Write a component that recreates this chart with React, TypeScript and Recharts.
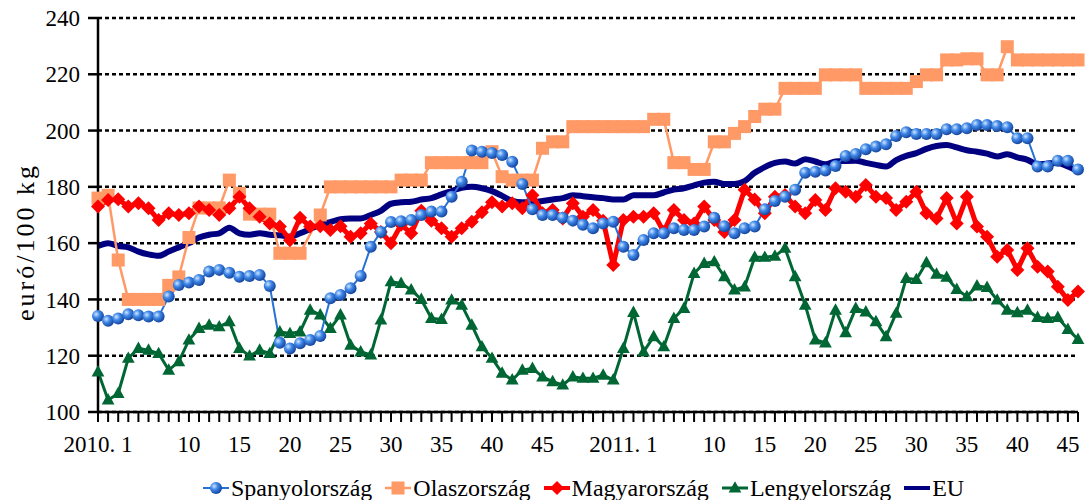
import { LineChart, Line, XAxis, YAxis, CartesianGrid, Legend } from "recharts";

const FONT = '"Liberation Serif", "Times New Roman", serif';

// weekly prices, 2010 week 1 .. 2011 week 46
const years = [2010, 2011];
const weeksInYear = [52, 46];
const labelledWeeks = [1, 10, 15, 20, 25, 30, 35, 40, 45];
const yTicks = [100, 120, 140, 160, 180, 200, 220, 240];

const spain = [
  134.1, 132.4, 133.2, 134.7, 134.4, 133.9, 133.9, 141, 145.1, 146,
  146.9, 149.9, 150.5, 149.5, 148.1, 148.3, 148.7, 144.8, 124.6, 122.6,
  124.4, 125.6, 127, 140.4, 141.6, 144, 148.3, 158.7, 164, 167.5,
  167.8, 168.2, 170, 171.2, 171.2, 176.5, 181.8, 192.9, 192.5, 192,
  191.3, 188.9, 181, 172, 170, 170, 169, 168, 166.5, 165.3,
  167, 167.6, 158.7, 155.8, 161.1, 163.5, 163.5, 165.3, 164.7, 164.7,
  165.9, 169, 166, 163.5, 165.3, 165.9, 172, 175, 176.5, 179,
  185, 185.4, 185.8, 187.4, 191, 191.7, 193.4, 194.3, 195.1, 198.1,
  199.4, 198.8, 198.8, 198.8, 200.5, 200.5, 200.8, 202, 202, 201.6,
  201.2, 197.3, 197.3, 187.2, 187.2, 189.3, 189.3, 186.2,
];

const italy = [
  176, 177, 154, 140, 140, 140, 140, 145, 148, 162,
  172.5, 172.5, 172.5, 182.4, 177.7, 170.3, 170.3, 170.3, 156.4, 156.4,
  156.4, null, 170, 180, 180, 180, 180, 180, 180, 180,
  182.4, 182.4, 182.4, 188.6, 188.6, 188.6, 188.6, 188.6, 188.6, 192.5,
  183.6, 182.4, 182.4, 182.4, 193.7, 196, 196, 201.4, 201.4, 201.4,
  201.4, 201.4, 201.4, 201.4, 201.4, 204, 204, 188.6, 188.6, 186.2,
  186.2, 196, 196, 199, 201.4, 205, 207.6, 207.6, 215, 215,
  215, 215, 219.8, 219.8, 219.8, 219.8, 215, 215, 215, 215,
  215, 217.4, 219.8, 219.8, 225.1, 225.1, 225.5, 225.5, 219.8, 219.8,
  229.8, 225.1, 225.1, 225.1, 225.1, 225.1, 225.1, 225.1,
];

const hungary = [
  173, 175.3, 175.6, 173, 174.2, 172.4, 168.2, 170.6, 170, 170.6,
  173, 171.8, 170, 172.4, 176.5, 172.4, 169.4, 167, 165.9, 161,
  169, 165.9, 166, 164.7, 166, 162.3, 163.5, 167, 164, 160,
  166.5, 163.5, 171.5, 168, 165.3, 162.3, 165.3, 167.6, 171, 174.5,
  173, 174.2, 172.4, 177, 170.6, 171.8, 168.8, 174.2, 169.4, 171.8,
  168, 152.2, 168.2, 169.4, 169.4, 170.6, 164, 171.8, 168.2, 167,
  173, 168.2, 164, 168.2, 179, 175.5, 170.6, 176.5, 177.1, 173,
  170.6, 175.3, 171.8, 179.5, 178.3, 176.5, 180.7, 176.5, 176, 171.8,
  174.7, 178.3, 170.6, 168.8, 176, 167, 176.5, 165.9, 162.3, 155.2,
  157.6, 150.5, 158.2, 151.6, 149.9, 144.5, 139.8, 142.8,
];

const poland = [
  114.3, 104.3, 106.6, 119.1, 122.6, 122, 120.8, 114.9, 117.9, 125.6,
  129.7, 130.9, 130.3, 132.1, 122.6, 119.9, 122, 120.8, 128.5, 127.9,
  128.5, 136.2, 134.5, 129.7, 134.5, 123.8, 121.4, 120.3, 132.7, 146.3,
  145.7, 143.4, 140, 133.3, 132.9, 139.8, 138, 130.9, 123.2, 119.1,
  113.8, 111.4, 114.9, 115.5, 112.5, 110.8, 109.6, 112.5, 112, 112,
  113.1, 111.4, 122.6, 135.4, 121.4, 126.8, 123.2, 133.3, 136.8, 149.3,
  152.8, 153.4, 148.1, 143.4, 144.5, 155, 155, 155.4, 158.2, 148.1,
  138, 125.6, 124.6, 136.2, 128.2, 136.8, 135.6, 132.1, 126.8, 135.1,
  147.5, 147.1, 153.1, 149, 147.9, 143.6, 141, 144.8, 144.3, 139.8,
  136.2, 135.3, 136.2, 133.6, 133.3, 133.6, 129.4, 125.8,
];

const eu = [
  159, 160, 159, 158.5, 157, 156, 155.5, 157, 158.5, 160,
  162, 163, 163.5, 165.5, 163.5, 163, 163.5, 163, 162.8, 162.3,
  163.5, 165, 166.5, 167.5, 168.5, 168.8, 168.8, 170, 171.5, 174,
  174.5, 174.7, 175.5, 176, 177.3, 178.5, 179.7, 180, 179.5, 178.5,
  176.8, 175, 174.5, 174.5, 175, 175.5, 176, 177, 176.7, 176.3,
  176, 175.5, 175.5, 177, 177, 177, 178, 179, 179.5, 180.5,
  181.5, 181.8, 181, 181, 182, 185, 187, 188.5, 189, 188.3,
  189.8, 189, 188, 189, 189.2, 189.3, 188.5, 187.8, 187.2, 189.5,
  191, 192, 193.5, 194.5, 194.9, 194, 193, 192.5, 191.8, 190.8,
  191.6, 190.5, 189.6, 188, 188.3, 188.5, 187.2, 185.5,
];

const categories = years.flatMap((y, i) =>
  Array.from({ length: weeksInYear[i] }, (_, w) => `${y}. ${w + 1}`)
);

const data = categories.map((cat, i) => ({
  cat,
  es: spain[i],
  it: italy[i],
  hu: hungary[i],
  pl: poland[i],
  eu: eu[i],
}));

const COLORS = {
  es: "#2472D6",
  it: "#FF9966",
  hu: "#FF0000",
  pl: "#006633",
  eu: "#000080",
};

const tickText = (v: string) => {
  const [, w] = v.split(". ");
  const wk = Number(w);
  if (!labelledWeeks.includes(wk)) return "";
  return wk === 1 ? v : w;
};

// markers
const sphere = (cx: number, cy: number, r: number, key?: string) => (
  <circle key={key} cx={cx} cy={cy} r={r} fill="url(#sphere)" />
);
const square = (cx: number, cy: number, s: number, key?: string) => (
  <rect key={key} x={cx - s / 2} y={cy - s / 2} width={s} height={s} fill={COLORS.it} />
);
const diamond = (cx: number, cy: number, h: number, key?: string) => (
  <polygon
    key={key}
    points={`${cx},${cy - h} ${cx + h},${cy} ${cx},${cy + h} ${cx - h},${cy}`}
    fill={COLORS.hu}
  />
);
const triangle = (cx: number, cy: number, s: number, key?: string) => (
  <polygon
    key={key}
    points={`${cx},${cy - s * 0.62} ${cx + s * 0.58},${cy + s * 0.42} ${cx - s * 0.58},${cy + s * 0.42}`}
    fill={COLORS.pl}
  />
);

const makeDot = (kind: string) => (p: any) => {
  const k = `${kind}-${p.index}`;
  if (p.cx == null || p.cy == null || p.value == null) return <g key={k} />;
  if (kind === "es") return sphere(p.cx, p.cy, 6, k);
  if (kind === "it") return square(p.cx, p.cy, 13, k);
  if (kind === "hu") return diamond(p.cx, p.cy, 7, k);
  return triangle(p.cx, p.cy, 11, k);
};

const legendItems = [
  { key: "es", name: "Spanyolország" },
  { key: "it", name: "Olaszország" },
  { key: "hu", name: "Magyarország" },
  { key: "pl", name: "Lengyelország" },
  { key: "eu", name: "EU" },
];

const widths: Record<string, number> = { es: 2, it: 2.5, hu: 5, pl: 3, eu: 6 };

function LegendContent() {
  return (
    <div
      style={{
        display: "flex",
        alignItems: "center",
        height: 24,
        marginLeft: 203,
        fontFamily: FONT,
        fontSize: 24,
        lineHeight: "24px",
        color: "#000",
        whiteSpace: "nowrap",
      }}
    >
      {legendItems.map((it) => (
        <div key={it.key} style={{ display: "flex", alignItems: "center", marginRight: 13 }}>
          <svg width={26} height={20}>
            <defs>
              <radialGradient id={`lg-${it.key}`} cx="35%" cy="35%" r="65%">
                <stop offset="0%" stopColor="#CFE6FF" />
                <stop offset="45%" stopColor="#3F88E8" />
                <stop offset="100%" stopColor="#1747A0" />
              </radialGradient>
            </defs>
            <line x1={0} y1={10} x2={26} y2={10} stroke={COLORS[it.key as keyof typeof COLORS]} strokeWidth={Math.min(widths[it.key], 4)} />
            {it.key === "es" && <circle cx={13} cy={10} r={6} fill={`url(#lg-${it.key})`} />}
            {it.key === "it" && square(13, 10, 13)}
            {it.key === "hu" && diamond(13, 10, 7)}
            {it.key === "pl" && triangle(13, 10, 11)}
          </svg>
          <span style={{ marginLeft: 2, fontFamily: FONT }}>{it.name}</span>
        </div>
      ))}
    </div>
  );
}

const YLabel = () => (
  <text
    x={25}
    y={242}
    transform="rotate(-90 25 242)"
    textAnchor="middle"
    dominantBaseline="central"
    style={{ fontFamily: FONT, fontSize: 26, letterSpacing: 3 }}
    fill="#000"
  >
    euró/100 kg
  </text>
);

export default function App() {
  const tickStyle = { fill: "#000", fontSize: 23, fontFamily: FONT };
  return (
    <div style={{ position: "absolute", left: 0, top: 0, background: "#fff", fontFamily: FONT }}>
      <LineChart
        width={1091}
        height={500}
        data={data}
        margin={{ top: 18, right: 13, left: 0, bottom: 0 }}
        style={{ fontFamily: FONT }}
      >
        <defs>
          <radialGradient id="sphere" cx="35%" cy="35%" r="65%">
            <stop offset="0%" stopColor="#CFE6FF" />
            <stop offset="45%" stopColor="#3F88E8" />
            <stop offset="100%" stopColor="#1747A0" />
          </radialGradient>
        </defs>
        <CartesianGrid
          vertical={false}
          stroke="#000"
          strokeWidth={2.5}
          strokeDasharray="4 3"
        />
        <XAxis
          dataKey="cat"
          interval={0}
          tickFormatter={tickText}
          tick={tickStyle}
          tickSize={10}
          tickMargin={14}
          height={64}
          axisLine={{ stroke: "#000", strokeWidth: 2.5 }}
          tickLine={{ stroke: "#000", strokeWidth: 2 }}
        />
        <YAxis
          domain={[100, 240]}
          ticks={yTicks}
          width={98}
          tick={tickStyle}
          tickSize={10}
          tickMargin={8}
          axisLine={{ stroke: "#000", strokeWidth: 2.5 }}
          tickLine={{ stroke: "#000", strokeWidth: 2.5 }}
          label={{ content: () => <YLabel /> }}
        />
        <Legend
          verticalAlign="bottom"
          content={() => <LegendContent />}
          wrapperStyle={{ left: 0, width: 1091, bottom: 0, height: 24, fontFamily: FONT }}
        />
        <Line
          type="monotone"
          dataKey="eu"
          name="EU"
          stroke={COLORS.eu}
          strokeWidth={6}
          dot={false}
          activeDot={false}
          isAnimationActive={false}
        />
        <Line
          type="linear"
          dataKey="pl"
          name="Lengyelország"
          stroke={COLORS.pl}
          strokeWidth={3}
          dot={makeDot("pl")}
          activeDot={false}
          isAnimationActive={false}
        />
        <Line
          type="linear"
          dataKey="it"
          name="Olaszország"
          stroke={COLORS.it}
          strokeWidth={2.5}
          dot={makeDot("it")}
          connectNulls
          activeDot={false}
          isAnimationActive={false}
        />
        <Line
          type="linear"
          dataKey="hu"
          name="Magyarország"
          stroke={COLORS.hu}
          strokeWidth={5}
          dot={makeDot("hu")}
          activeDot={false}
          isAnimationActive={false}
        />
        <Line
          type="linear"
          dataKey="es"
          name="Spanyolország"
          stroke={COLORS.es}
          strokeWidth={2}
          dot={makeDot("es")}
          activeDot={false}
          isAnimationActive={false}
        />
      </LineChart>
    </div>
  );
}
